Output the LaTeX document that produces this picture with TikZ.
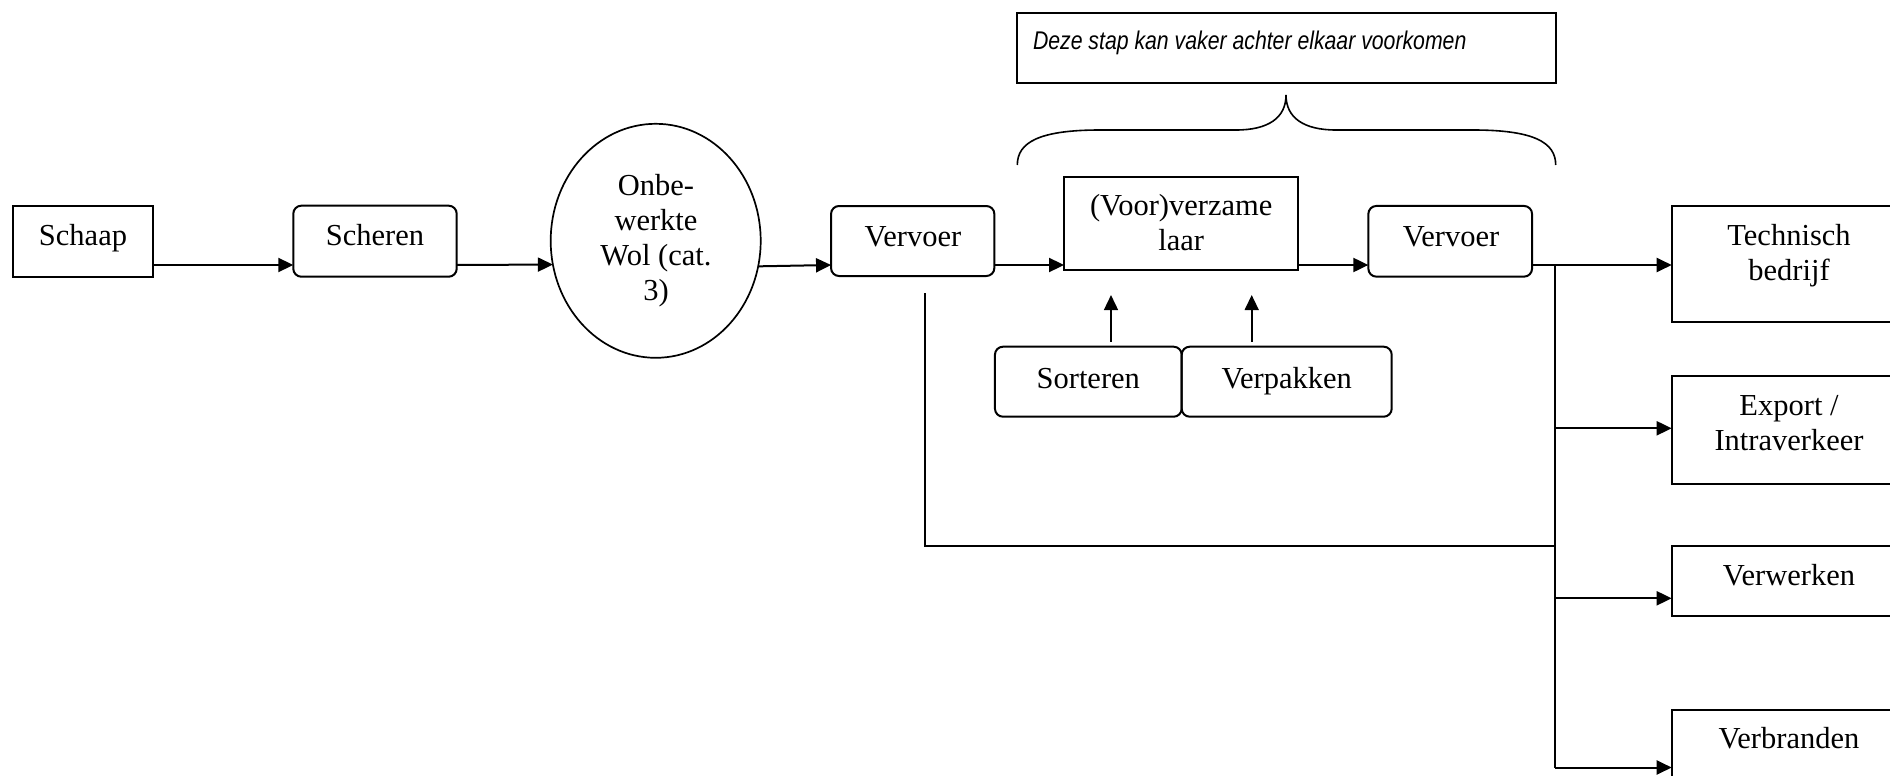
\documentclass[tikz,border=0pt]{standalone}
\usepackage{fontspec}
\setmainfont{Liberation Serif}
\newfontfamily\notefont{Liberation Sans}
\usetikzlibrary{shapes.geometric,arrows.meta}
\begin{document}
\begin{tikzpicture}[x=1pt,y=-1pt,
  every node/.style={inner sep=0pt, outer sep=0pt},
  box/.style={draw, line width=2pt, rectangle},
  rbox/.style={box, rounded corners=8pt},
  lbl/.style={anchor=base, font=\fontsize{30.5pt}{35.5pt}\selectfont},
  arr/.style={line width=2pt, -{Triangle[length=15pt,width=14pt]}},
  uparr/.style={line width=1.6pt, -{Triangle[length=15pt,width=14pt]}},
  thinl/.style={line width=1.6pt}]
\useasboundingbox (0,0) rectangle (1890,776);
\fill[white] (0,0) rectangle (1890,776);
\clip (0,0) rectangle (1890,776);

% boxes
\node[box, minimum width=140.6pt, minimum height=71pt] (schaap) at (83,241.2) {};
\node[rbox, minimum width=163.4pt, minimum height=71pt] (scheren) at (375,241.2) {};
\node[draw, ellipse, line width=1.7pt, minimum width=210pt, minimum height=234pt] (wol) at (655.7,240.8) {};
\node[rbox, minimum width=163.3pt, minimum height=70pt] (vv1) at (912.7,241) {};
\node[box, minimum width=234.3pt, minimum height=93.3pt] (vz) at (1181.2,223.4) {};
\node[rbox, minimum width=163.7pt, minimum height=70.7pt] (vv2) at (1450.2,241.3) {};
\node[rbox, minimum width=186.7pt, minimum height=70pt] (sort) at (1088.3,381.7) {};
\node[rbox, minimum width=210pt, minimum height=70pt] (verp) at (1286.7,381.7) {};
\node[box, minimum width=234.6pt, minimum height=115.7pt] (tech) at (1789,263.9) {};
\node[box, minimum width=234.6pt, minimum height=108.3pt] (exp) at (1789,430.2) {};
\node[box, minimum width=234.6pt, minimum height=70.3pt] (verw) at (1789,580.9) {};
\node[box, minimum width=234.6pt, minimum height=120pt] (verb) at (1789,770) {};
\node[box, minimum width=538.4pt, minimum height=70pt] (note) at (1286.5,47.7) {};

% labels
\node[lbl] (tschaap) at (83,245.5) {Schaap};
\node[lbl] (tscheren) at (375,245.5) {Scheren};
\node[lbl] (twol1) at (656,195) {Onbe-};
\node[lbl] (twol2) at (656,230) {werkte};
\node[lbl] (twol3) at (656,265) {Wol (cat.};
\node[lbl] (twol4) at (656,300.5) {3)};
\node[lbl] (tvv1) at (913,246.5) {Vervoer};
\node[lbl] (tvz1) at (1181.2,215) {(Voor)verzame};
\node[lbl] (tvz2) at (1181.2,250.5) {laar};
\node[lbl] (tvv2) at (1451,246.5) {Vervoer};
\node[lbl] (tsort) at (1088.3,388.3) {Sorteren};
\node[lbl] (tverp) at (1286.7,388.3) {Verpakken};
\node[lbl] (ttech1) at (1789,245) {Technisch};
\node[lbl] (ttech2) at (1789,280.5) {bedrijf};
\node[lbl] (texp1) at (1789,415) {Export /};
\node[lbl] (texp2) at (1789,450.5) {Intraverkeer};
\node[lbl] (tverw) at (1789,585) {Verwerken};
\node[lbl] (tverb) at (1789,748.3) {Verbranden};
\node[anchor=base west, font={\fontsize{25.6pt}{30pt}\notefont\itshape}] (tnote) at (1033,50)
  {\scalebox{0.83}[1]{Deze stap kan vaker achter elkaar voorkomen}};

% connectors
\coordinate (row) at (0,265);
\draw[arr] (schaap.east |- row) -- (scheren.west |- row);
\draw[arr] (scheren.east |- row) -- (wol.193.3);
\draw[arr] (wol.346.7) -- (vv1.west |- row);
\draw[arr] (vv1.east |- row) -- (vz.west |- row);
\draw[arr] (vz.east |- row) -- (vv2.west |- row);
\draw[arr] (vv2.east |- row) -- (tech.west |- row);

\draw[uparr, shorten <=5pt, shorten >=25pt] ([xshift=22.7pt]sort.north) -- ([xshift=22.7pt]sort.north |- vz.south);
\draw[uparr, shorten <=5pt, shorten >=25pt] ([xshift=-35pt]verp.north) -- ([xshift=-35pt]verp.north |- vz.south);

\coordinate (d1) at (925,293.3);
\coordinate (jn) at (1555,545.7);
\draw[thinl] (d1) |- (jn);

\coordinate (br) at (1555,265);
\coordinate (bexp) at (1555,428.3);
\coordinate (bverw) at (1555,598.3);
\coordinate (bverb) at (1555,767.5);
\draw[thinl] (br) -- (bverb);
\draw[arr] (bexp) -- (exp.west |- bexp);
\draw[arr] (bverw) -- (verw.west |- bverw);
\draw[arr] (bverb) -- (verb.west |- bverb);

% brace
\draw[thinl] (1017.3,165) .. controls (1017.3,142) and (1040,130) .. (1100,130)
  -- (1236,130) .. controls (1268,130) and (1286,118) .. (1286,95)
  .. controls (1286,118) and (1304,130) .. (1336,130)
  -- (1473,130) .. controls (1533,130) and (1555.7,142) .. (1555.7,165);
\end{tikzpicture}
\end{document}
